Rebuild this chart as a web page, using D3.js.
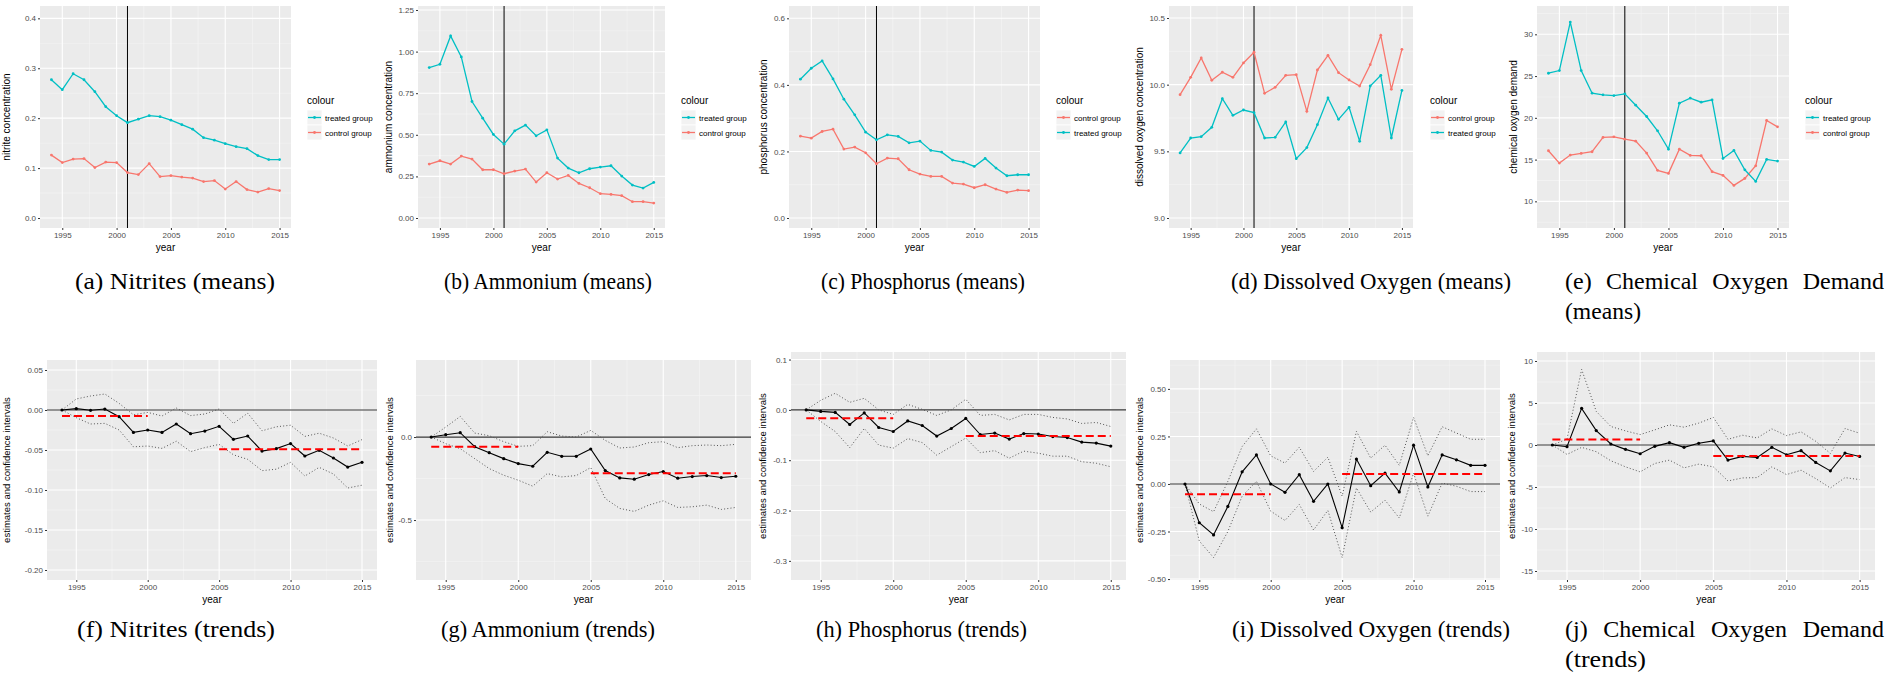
<html>
<head>
<meta charset="utf-8">
<style>
  body{margin:0;background:#fff}
  svg{display:block}
  .ax text{font-family:Arial,"Liberation Sans",sans-serif;font-size:8px;fill:#4d4d4d}
  .ax line{stroke:#333}
  .ttl{font-family:Arial,"Liberation Sans",sans-serif;font-size:10px;fill:#000}
  .leg{font-family:Arial,"Liberation Sans",sans-serif;font-size:8px;fill:#000}
  .cap{font-family:"Liberation Serif","DejaVu Serif",serif;font-size:24px;fill:#000}
</style>
</head>
<body>
<div id="fig"></div>
<script src="https://d3js.org/d3.v7.min.js"></script>
<script>
// ---- data ----
var years = [1994,1995,1996,1997,1998,1999,2000,2001,2002,2003,2004,2005,2006,2007,2008,2009,2010,2011,2012,2013,2014,2015];

var nitriteTreated = [0.277,0.257,0.289,0.277,0.253,0.223,0.205,0.191,0.198,0.205,0.203,0.196,0.187,0.178,0.161,0.156,0.149,0.143,0.139,0.125,0.117,0.117];
var nitriteControl = [0.126,0.111,0.118,0.119,0.101,0.112,0.111,0.091,0.087,0.109,0.083,0.085,0.082,0.080,0.073,0.075,0.058,0.073,0.057,0.052,0.059,0.055];

var ammoniumTreated = [0.904,0.924,1.094,0.968,0.700,0.600,0.502,0.444,0.524,0.558,0.494,0.530,0.360,0.300,0.272,0.296,0.306,0.314,0.252,0.198,0.180,0.214];
var ammoniumControl = [0.324,0.344,0.324,0.372,0.354,0.290,0.290,0.266,0.282,0.294,0.216,0.272,0.234,0.256,0.208,0.182,0.146,0.142,0.134,0.098,0.098,0.090];

var phosphorusTreated = [0.417,0.450,0.472,0.418,0.357,0.310,0.258,0.235,0.250,0.245,0.226,0.231,0.203,0.198,0.174,0.168,0.155,0.179,0.150,0.127,0.130,0.130];
var phosphorusControl = [0.246,0.240,0.260,0.267,0.207,0.213,0.196,0.163,0.180,0.178,0.145,0.132,0.125,0.125,0.105,0.102,0.091,0.100,0.087,0.077,0.084,0.082];

var oxygenControl = [9.925,10.055,10.200,10.033,10.093,10.055,10.163,10.243,9.935,9.980,10.070,10.075,9.800,10.110,10.220,10.090,10.035,9.990,10.150,10.370,9.965,10.265];
var oxygenTreated = [9.488,9.600,9.610,9.680,9.895,9.770,9.810,9.790,9.600,9.605,9.720,9.445,9.528,9.700,9.900,9.740,9.830,9.575,9.990,10.070,9.600,9.957];

var codTreated = [25.34,25.66,31.47,25.66,22.95,22.75,22.67,22.87,21.51,20.16,18.45,16.25,21.75,22.35,21.87,22.15,15.14,16.10,13.78,12.39,15.02,14.82];
var codControl = [16.06,14.58,15.54,15.74,15.94,17.65,17.73,17.45,17.21,15.78,13.71,13.35,16.25,15.50,15.46,13.55,13.11,11.91,12.75,14.26,19.68,18.92];

// trends: estimate, upper and lower confidence bound, mean before 2000 and after 2005
var nitriteEst   = [0,0.0017,-0.0004,0.0012,-0.0083,-0.028,-0.025,-0.028,-0.0175,-0.0296,-0.0263,-0.0204,-0.0367,-0.0325,-0.0513,-0.0483,-0.042,-0.0575,-0.0504,-0.060,-0.0713,-0.0654];
var nitriteUpper = [0,0.0138,0.0175,0.020,0.0083,-0.006,-0.003,-0.0075,0.0025,-0.007,-0.005,0.0013,-0.0167,-0.004,-0.026,-0.021,-0.019,-0.033,-0.029,-0.035,-0.045,-0.037];
var nitriteLower = [0,-0.0096,-0.0175,-0.0167,-0.025,-0.046,-0.045,-0.048,-0.039,-0.052,-0.047,-0.043,-0.056,-0.0617,-0.0758,-0.074,-0.0654,-0.0825,-0.0717,-0.080,-0.0975,-0.094];
var nitriteMeans = [-0.0075,-0.049];

var ammoniumEst   = [0,0.014,0.026,-0.058,-0.094,-0.130,-0.160,-0.176,-0.092,-0.116,-0.116,-0.072,-0.202,-0.246,-0.254,-0.226,-0.208,-0.248,-0.238,-0.232,-0.244,-0.236];
var ammoniumUpper = [0,0.060,0.124,0.024,0.008,-0.028,-0.056,-0.052,0.032,0.006,0,0.040,-0.020,-0.066,-0.060,-0.034,-0.028,-0.064,-0.052,-0.048,-0.052,-0.044];
var ammoniumLower = [0,-0.040,-0.070,-0.130,-0.190,-0.230,-0.260,-0.296,-0.220,-0.240,-0.232,-0.184,-0.370,-0.430,-0.448,-0.410,-0.384,-0.424,-0.420,-0.410,-0.436,-0.424];
var ammoniumMeans = [-0.058,-0.218];

var phosphorusEst   = [0,-0.003,-0.005,-0.029,-0.006,-0.035,-0.043,-0.022,-0.031,-0.052,-0.037,-0.017,-0.049,-0.046,-0.058,-0.047,-0.048,-0.053,-0.055,-0.064,-0.066,-0.072];
var phosphorusUpper = [0,0.019,0.033,0.015,0.023,0,-0.009,0.011,0.001,-0.011,0,0.021,-0.011,-0.009,-0.020,-0.009,-0.009,-0.015,-0.018,-0.027,-0.025,-0.033];
var phosphorusLower = [0,-0.023,-0.043,-0.075,-0.037,-0.070,-0.076,-0.057,-0.065,-0.090,-0.073,-0.056,-0.085,-0.081,-0.096,-0.082,-0.086,-0.092,-0.092,-0.103,-0.106,-0.113];
var phosphorusMeans = [-0.0166,-0.052];

var oxygenEst   = [0,-0.204,-0.268,-0.118,0.064,0.153,0,-0.044,0.049,-0.091,0,-0.230,0.131,-0.009,0.057,-0.042,0.204,-0.016,0.153,0.127,0.098,0.098];
var oxygenUpper = [0,-0.105,-0.146,0.014,0.197,0.290,0.148,0.110,0.193,0.066,0.141,-0.064,0.277,0.136,0.204,0.098,0.350,0.148,0.301,0.268,0.235,0.235];
var oxygenLower = [0,-0.300,-0.387,-0.250,-0.064,0.014,-0.143,-0.192,-0.108,-0.242,-0.139,-0.387,-0.021,-0.148,-0.085,-0.179,0.057,-0.169,0.005,-0.012,-0.040,-0.040];
var oxygenMeans = [-0.054,0.052];

var codEst   = [0,-0.20,4.36,1.72,0.12,-0.52,-1.04,-0.16,0.28,-0.28,0.20,0.48,-1.80,-1.36,-1.48,-0.28,-1.16,-0.68,-2.08,-3.08,-0.96,-1.36];
var codUpper = [0,0.70,9.00,4.00,2.20,1.68,1.24,1.80,2.40,2.12,2.60,3.28,0.68,1.16,0.84,1.92,1.12,1.56,0.44,-1.00,1.96,1.40];
var codLower = [0,-1.12,-0.28,-0.80,-1.88,-2.60,-3.20,-2.20,-1.80,-2.72,-2.28,-2.60,-4.28,-3.92,-3.88,-2.60,-3.52,-3.00,-4.00,-5.12,-3.88,-4.12];
var codMeans = [0.64,-1.32];

var xTicks = [1995,2000,2005,2010,2015];
var groupNames = {treated:'treated group', control:'control group'};

// ---- layout ----
var W = 1891, H = 677;
var TEAL = '#00BFC4', RED = '#F8766D';

var svg = d3.select('#fig').append('svg').attr('width', W).attr('height', H);

function hy(s){ return s.replace(/\u2212/g, '-'); }

function minors(ticks, dom) {
  var s = Math.abs(ticks[1] - ticks[0]), out = [];
  var lo = d3.min(ticks), hi = d3.max(ticks);
  for (var v = lo - s / 2; v <= hi + s / 2 + 1e-9; v += s) {
    if (v > dom[0] && v < dom[1]) out.push(v);
  }
  return out;
}

function frame(g, p, x, y) {
  var b = p.box;
  g.append('rect')
    .attr('x', b[0]).attr('y', b[2])
    .attr('width', b[1] - b[0]).attr('height', b[3] - b[2])
    .attr('fill', '#EBEBEB');

  var yDom = y.domain();
  g.selectAll(null).data(minors(p.ticks, yDom)).enter().append('line')
    .attr('x1', b[0]).attr('x2', b[1])
    .attr('y1', y).attr('y2', y)
    .attr('stroke', '#F5F5F5').attr('stroke-width', 0.6);
  g.selectAll(null).data(minors(xTicks, x.domain())).enter().append('line')
    .attr('y1', b[2]).attr('y2', b[3])
    .attr('x1', x).attr('x2', x)
    .attr('stroke', '#F5F5F5').attr('stroke-width', 0.6);
  g.selectAll(null).data(p.ticks).enter().append('line')
    .attr('x1', b[0]).attr('x2', b[1])
    .attr('y1', y).attr('y2', y)
    .attr('stroke', '#fff').attr('stroke-width', 1.1);
  g.selectAll(null).data(xTicks).enter().append('line')
    .attr('y1', b[2]).attr('y2', b[3])
    .attr('x1', x).attr('x2', x)
    .attr('stroke', '#fff').attr('stroke-width', 1.1);

  var ya = g.append('g').attr('class', 'ax')
    .attr('transform', 'translate(' + b[0] + ',0)')
    .call(d3.axisLeft(y).tickValues(p.ticks).tickSize(2).tickPadding(2)
      .tickFormat(function (d) { return hy(d3.format(p.fmt)(d)); }));
  ya.select('.domain').remove();

  var xa = g.append('g').attr('class', 'ax')
    .attr('transform', 'translate(0,' + b[3] + ')')
    .call(d3.axisBottom(x).tickValues(xTicks).tickSize(2).tickPadding(2)
      .tickFormat(d3.format('d')));
  xa.select('.domain').remove();

  g.append('text').attr('class', 'ttl')
    .attr('x', (b[0] + b[1]) / 2).attr('y', b[3] + p.yearDy)
    .attr('text-anchor', 'middle').text('year');

  g.append('text').attr('class', 'ttl')
    .attr('transform', 'translate(' + p.ylabX + ',' + (b[2] + b[3]) / 2 + ') rotate(-90)')
    .attr('text-anchor', 'middle').attr('dy', '0.35em')
    .style('font-size', p.ylabSize + 'px')
    .text(p.ylab);
}

function meansPanel(p) {
  var g = svg.append('g');
  var b = p.box;
  var x = d3.scaleLinear().domain([1992.95, 2016.05]).range([b[0], b[1]]);
  var y = d3.scaleLinear().domain(p.y).range([b[3], b[2]]);
  frame(g, p, x, y);

  g.append('line')
    .attr('x1', x(2001)).attr('x2', x(2001))
    .attr('y1', b[2]).attr('y2', b[3])
    .attr('stroke', '#000').attr('stroke-width', 1);

  var line = d3.line().x(function (d, i) { return x(years[i]); }).y(function (d) { return y(d); });
  var series = {treated: {v: p.treated, c: TEAL}, control: {v: p.control, c: RED}};
  p.order.slice().reverse().forEach(function (k) {
    var s = series[k];
    g.append('path').attr('d', line(s.v))
      .attr('fill', 'none').attr('stroke', s.c).attr('stroke-width', 1.3);
    g.selectAll(null).data(s.v).enter().append('circle')
      .attr('cx', function (d, i) { return x(years[i]); })
      .attr('cy', y).attr('r', 1.4).attr('fill', s.c);
  });

  // legend
  var lx = p.legX;
  g.append('text').attr('class', 'ttl').attr('x', lx).attr('y', 104).text('colour');
  p.order.forEach(function (k, i) {
    var ky = 110 + i * 15;
    g.append('rect').attr('x', lx).attr('y', ky).attr('width', 15).attr('height', 15)
      .attr('fill', '#F2F2F2').attr('stroke', '#fff').attr('stroke-width', 0.8);
    g.append('line').attr('x1', lx + 1).attr('x2', lx + 14)
      .attr('y1', ky + 7.5).attr('y2', ky + 7.5)
      .attr('stroke', series[k].c).attr('stroke-width', 1.3);
    g.append('circle').attr('cx', lx + 7.5).attr('cy', ky + 7.5).attr('r', 1.4).attr('fill', series[k].c);
    g.append('text').attr('class', 'leg').attr('x', lx + 18).attr('y', ky + 10.5).text(groupNames[k]);
  });
}

function trendPanel(p) {
  var g = svg.append('g');
  var b = p.box;
  var x = d3.scaleLinear().domain([1992.95, 2016.05]).range([b[0], b[1]]);
  var y = d3.scaleLinear().domain(p.y).range([b[3], b[2]]);
  frame(g, p, x, y);

  var line = d3.line().x(function (d, i) { return x(years[i]); }).y(function (d) { return y(d); });

  g.append('line')
    .attr('x1', b[0]).attr('x2', b[1]).attr('y1', y(0)).attr('y2', y(0))
    .attr('stroke', '#333').attr('stroke-width', 1.2);

  [p.upper, p.lower].forEach(function (v) {
    g.append('path').attr('d', line(v))
      .attr('fill', 'none').attr('stroke', '#555').attr('stroke-width', 1)
      .attr('stroke-dasharray', '1,2.2');
  });

  g.append('path').attr('d', line(p.est))
    .attr('fill', 'none').attr('stroke', '#000').attr('stroke-width', 1.1);
  g.selectAll(null).data(p.est).enter().append('circle')
    .attr('cx', function (d, i) { return x(years[i]); })
    .attr('cy', y).attr('r', 1.6).attr('fill', '#000');

  var spans = [[1994, 2000], [2005, 2015]];
  spans.forEach(function (s, i) {
    g.append('line')
      .attr('x1', x(s[0])).attr('x2', x(s[1]))
      .attr('y1', y(p.means[i])).attr('y2', y(p.means[i]))
      .attr('stroke', '#FF0000').attr('stroke-width', 2)
      .attr('stroke-dasharray', '8,4');
  });
}

var topCommon = {yearDy: 23, ylabSize: 10};
var meansSpecs = [
  {box: [40, 291, 6, 228], y: [-0.02, 0.4247], ticks: [0, 0.1, 0.2, 0.3, 0.4], fmt: '.1f',
   ylab: 'nitrite concentration', ylabX: 6, treated: nitriteTreated, control: nitriteControl,
   order: ['treated', 'control'], legX: 307},
  {box: [418, 665, 6, 228], y: [-0.06, 1.274], ticks: [0, 0.25, 0.5, 0.75, 1, 1.25], fmt: '.2f',
   ylab: 'ammonium concentration', ylabX: 388, treated: ammoniumTreated, control: ammoniumControl,
   order: ['treated', 'control'], legX: 681},
  {box: [789, 1040, 6, 228], y: [-0.03, 0.637], ticks: [0, 0.2, 0.4, 0.6], fmt: '.1f',
   ylab: 'phosphorus concentration', ylabX: 763, treated: phosphorusTreated, control: phosphorusControl,
   order: ['control', 'treated'], legX: 1056},
  {box: [1169, 1413, 6, 228], y: [8.925, 10.59], ticks: [9, 9.5, 10, 10.5], fmt: '.1f',
   ylab: 'dissolved oxygen concentration', ylabX: 1139, treated: oxygenTreated, control: oxygenControl,
   order: ['control', 'treated'], legX: 1430},
  {box: [1537, 1789, 6, 228], y: [6.81, 33.39], ticks: [10, 15, 20, 25, 30], fmt: 'd',
   ylab: 'chemical oxygen demand', ylabX: 1513, treated: codTreated, control: codControl,
   order: ['treated', 'control'], legX: 1805}
];
meansSpecs.forEach(function (p) { p.yearDy = topCommon.yearDy; p.ylabSize = topCommon.ylabSize; meansPanel(p); });

var trendSpecs = [
  {box: [47, 377, 360, 580], y: [-0.2125, 0.0625], ticks: [0.05, 0, -0.05, -0.1, -0.15, -0.2], fmt: '.2f',
   ylabX: 7, est: nitriteEst, upper: nitriteUpper, lower: nitriteLower, means: nitriteMeans},
  {box: [416, 751, 360, 580], y: [-0.861, 0.464], ticks: [0, -0.5], fmt: '.1f',
   ylabX: 390, est: ammoniumEst, upper: ammoniumUpper, lower: ammoniumLower, means: ammoniumMeans},
  {box: [791, 1126, 352, 580], y: [-0.338, 0.115], ticks: [0.1, 0, -0.1, -0.2, -0.3], fmt: '.1f',
   ylabX: 763, est: phosphorusEst, upper: phosphorusUpper, lower: phosphorusLower, means: phosphorusMeans},
  {box: [1170, 1500, 360, 580], y: [-0.505, 0.652], ticks: [0.5, 0.25, 0, -0.25, -0.5], fmt: '.2f',
   ylabX: 1140, est: oxygenEst, upper: oxygenUpper, lower: oxygenLower, means: oxygenMeans},
  {box: [1537, 1875, 352, 580], y: [-16.07, 11.07], ticks: [10, 5, 0, -5, -10, -15], fmt: 'd',
   ylabX: 1512, est: codEst, upper: codUpper, lower: codLower, means: codMeans}
];
trendSpecs.forEach(function (p) {
  p.ylab = 'estimates and confidence intervals';
  p.yearDy = 23; p.ylabSize = 9.5;
  trendPanel(p);
});

// ---- captions ----
var captions = [
  {t: '(a) Nitrites (means)', x0: 75, x1: 275, y: 289},
  {t: '(b) Ammonium (means)', x0: 444, x1: 652, y: 289},
  {t: '(c) Phosphorus (means)', x0: 821, x1: 1025, y: 289},
  {t: '(d) Dissolved Oxygen (means)', x0: 1231, x1: 1511, y: 289},
  {t: '(f) Nitrites (trends)', x0: 77, x1: 275, y: 637},
  {t: '(g) Ammonium (trends)', x0: 441, x1: 655, y: 637},
  {t: '(h) Phosphorus (trends)', x0: 816, x1: 1027, y: 637},
  {t: '(i) Dissolved Oxygen (trends)', x0: 1232, x1: 1510, y: 637}
];
captions.forEach(function (c) {
  svg.append('text').attr('class', 'cap')
    .attr('x', c.x0).attr('y', c.y)
    .attr('textLength', c.x1 - c.x0).attr('lengthAdjust', 'spacingAndGlyphs')
    .text(c.t);
});

// justified two-line captions for (e) and (j)
function justified(words, x0, x1, y, second, secondW) {
  var ts = words.map(function (w) {
    return svg.append('text').attr('class', 'cap').attr('y', y).text(w);
  });
  var widths = ts.map(function (t) { return t.node().getComputedTextLength(); });
  var gap = (x1 - x0 - d3.sum(widths)) / (words.length - 1);
  var cx = x0;
  ts.forEach(function (t, i) { t.attr('x', cx); cx += widths[i] + gap; });
  svg.append('text').attr('class', 'cap').attr('x', x0).attr('y', y + 30)
    .attr('textLength', secondW).attr('lengthAdjust', 'spacingAndGlyphs').text(second);
}
justified(['(e)', 'Chemical', 'Oxygen', 'Demand'], 1565, 1884, 289, '(means)', 76);
justified(['(j)', 'Chemical', 'Oxygen', 'Demand'], 1565, 1884, 637, '(trends)', 81);
</script>
</body>
</html>
